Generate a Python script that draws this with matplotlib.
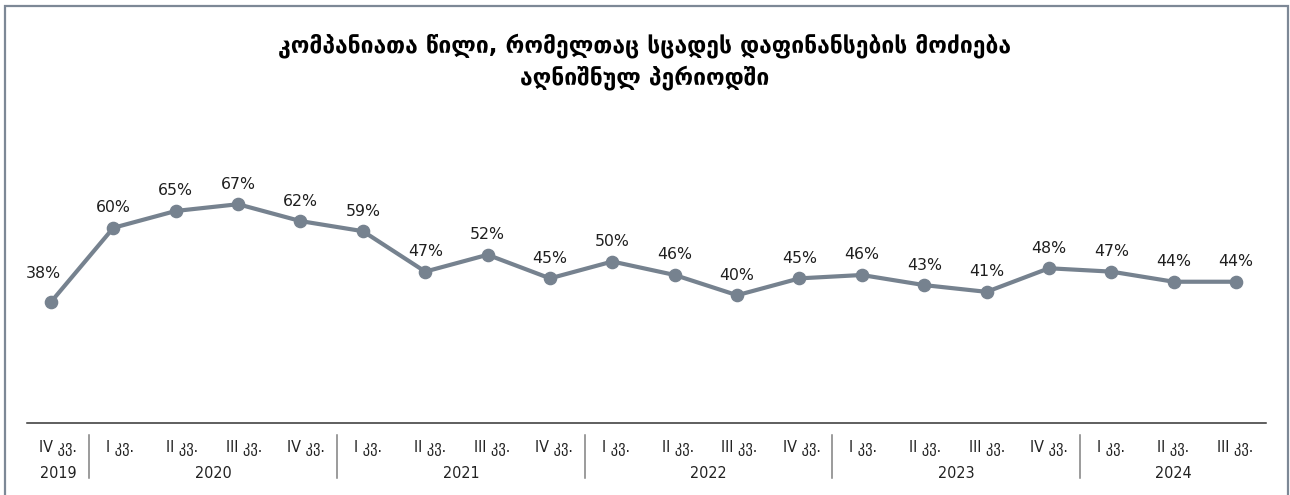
import matplotlib
matplotlib.use("Agg")
import matplotlib.pyplot as plt
from matplotlib.patches import Rectangle

# ---- data ----
quarters = ["IV კვ.", "I კვ.", "II კვ.", "III კვ.", "IV კვ.",
            "I კვ.", "II კვ.", "III კვ.", "IV კვ.",
            "I კვ.", "II კვ.", "III კვ.", "IV კვ.",
            "I კვ.", "II კვ.", "III კვ.", "IV კვ.",
            "I კვ.", "II კვ.", "III კვ."]
years = ["2019", "2020", "2021", "2022", "2023", "2024"]
year_counts = [1, 4, 4, 4, 4, 3]
values = [38, 60, 65, 67, 62, 59, 47, 52, 45, 50, 46, 40, 45, 46, 43, 41, 48, 47, 44, 44]
title_lines = ["კომპანიათა წილი, რომელთაც სცადეს დაფინანსების მოძიება",
               "აღნიშნულ პერიოდში"]

W, H = 1290, 495
fig = plt.figure(figsize=(W / 100, H / 100), dpi=100)
fig.patch.set_facecolor("white")

ax_left, ax_right = 27.3, 1266.0
ax_bottom_px, ax_h_px = 423.3, 262.9
ax = fig.add_axes([ax_left / W, (H - ax_bottom_px) / H,
                   (ax_right - ax_left) / W, ax_h_px / H])

line_color = "#76828f"
x = list(range(len(values)))
ax.plot(x, values, color=line_color, lw=3.0, marker="o", markersize=8.8,
        markerfacecolor=line_color, markeredgecolor=line_color, zorder=3,
        solid_capstyle="round")

xl, xr = -0.38, 19.48
ax.set_xlim(xl, xr)
ax.set_ylim(2, 80)
for s in ["top", "right", "left"]:
    ax.spines[s].set_visible(False)
ax.spines["bottom"].set_color("#333333")
ax.spines["bottom"].set_linewidth(1.1)
ax.set_xticks([])
ax.set_yticks([])

# data labels
for i, v in enumerate(values):
    dx, dy = (-8, 28) if i == 0 else (0, 20)
    ax.annotate(f"{v}%", xy=(i, v), xytext=(dx, dy), textcoords="offset pixels",
                ha="center", va="center", fontsize=11.3, color="#1f1f1f",
                family="DejaVu Sans")

# category axis labels
n = len(quarters)
step = (xr - xl) / n
tick_font = dict(family=["DejaVu Sans"], fontstretch="condensed", fontsize=11.5,
                 color="#222222")
for i, q in enumerate(quarters):
    cx = xl + (i + 0.5) * step
    ax.annotate(q, xy=(cx, 0), xycoords=("data", "axes fraction"),
                xytext=(0, -25), textcoords="offset pixels",
                ha="center", va="center", annotation_clip=False, **tick_font)

start = 0
trans = ax.get_xaxis_transform()
for k, (yr, c) in enumerate(zip(years, year_counts)):
    cx = xl + (start + c / 2) * step
    ax.annotate(yr, xy=(cx, 0), xycoords=("data", "axes fraction"),
                xytext=(0, -50), textcoords="offset pixels",
                ha="center", va="center", annotation_clip=False, **tick_font)
    if k > 0:
        bx = xl + start * step
        ax.plot([bx, bx], [-11.7 / ax_h_px, -54.7 / ax_h_px], transform=trans,
                color="#808080", lw=1.1, clip_on=False)
    start += c

# title
for j, ty in enumerate([46, 78]):
    fig.text(0.5, 1 - ty / H, title_lines[j], ha="center", va="center",
             fontsize=16.5, fontweight="bold", color="#000000", family="DejaVu Sans")

# border
fig.add_artist(Rectangle((4.5 / W, -0.05), (1287.5 - 4.5) / W, 1.05 - 5.5 / H,
                         transform=fig.transFigure, fill=False,
                         edgecolor="#7d8896", lw=1.6))

fig.savefig("out.png", dpi=100)
